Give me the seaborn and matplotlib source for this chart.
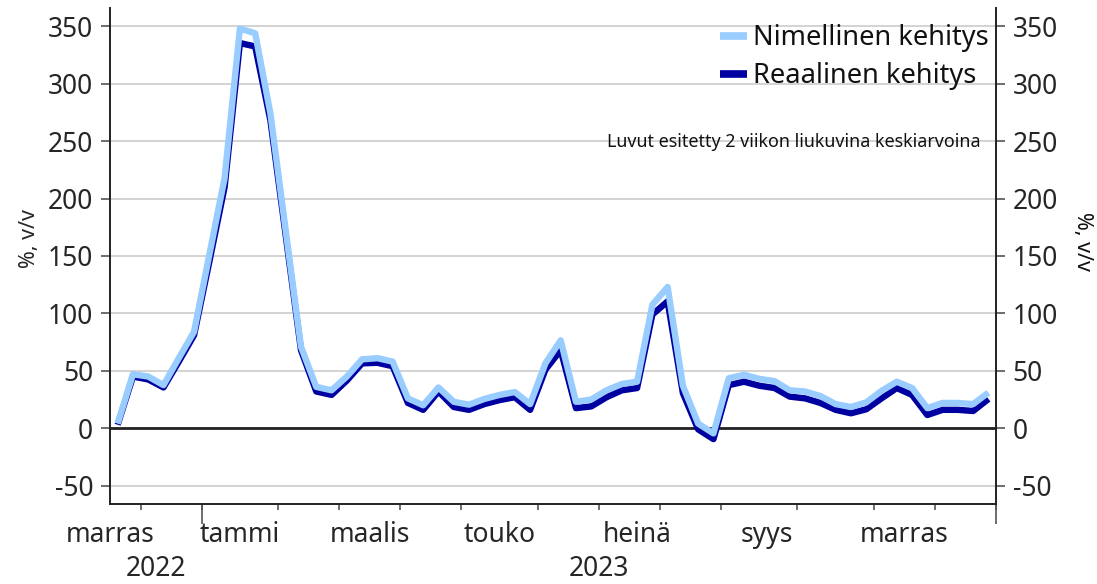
import numpy as np
import pandas as pd
import seaborn as sns
import matplotlib.pyplot as plt

NOMINAL = 'Nimellinen kehitys'
REAL = 'Reaalinen kehitys'

# weekly values, 2 week moving average, %, y/y
nominal = [4, 47, 45, 37.5, 61, 84, 151, 218, 348, 344,
           274, 172, 71, 36, 33, 45, 60, 61, 58, 26,
           20, 35.5, 23, 20.5, 25.5, 29, 31.5, 21, 56.5, 76.5,
           23, 25, 33, 38.5, 40.5, 107.5, 123, 37, 4, -4.5,
           43.5, 46.5, 43, 41, 33, 32, 28, 21, 18.5, 22.5,
           32.5, 40.5, 35, 17.5, 22, 22, 21, 31]
real = [3, 45, 42.5, 35.5, 58, 81, 145, 210, 335.5, 332.5,
        268, 168, 68, 32, 29, 41.5, 56.5, 57, 54, 22,
        16, 32, 18.5, 16, 21, 24.5, 27, 16, 51, 68,
        17.5, 19, 27, 33, 35, 99, 110.5, 30.5, -1, -9.5,
        37.5, 40.5, 37, 35, 27.5, 26, 22, 16, 13, 16.5,
        26, 35, 29, 11.5, 16, 16, 15, 25.5]

# week index where each month starts (Dec 2022 ... Jan 2024)
month_starts = [2, 6, 11, 15, 19, 23, 28, 32, 36, 40, 45, 50, 54, 58]
month_labels = ['marras', 'tammi', 'maalis', 'touko', 'heinä', 'syys', 'marras']
month_label_pos = [-0.5, 8, 16.5, 25, 34, 42.5, 51.5]
year_starts = [6, 58]
year_labels = ['2022', '2023']
year_label_pos = [2.5, 31.5]


def main():
    n = len(nominal)
    weeks = np.arange(n)
    df = pd.DataFrame({
        'week': np.concatenate([weeks, weeks]),
        'value': real + nominal,
        'series': [REAL] * n + [NOMINAL] * n,
    })

    sns.set_style('white')
    plt.rcParams['font.family'] = ['Noto Sans', 'DejaVu Sans']
    plt.rcParams['text.color'] = '#111111'
    plt.rcParams['axes.unicode_minus'] = False

    fig, ax = plt.subplots(figsize=(10.97, 5.84), dpi=100)
    fig.subplots_adjust(left=0.1003, right=0.908, top=0.9863, bottom=0.137)

    sns.lineplot(
        data=df, x='week', y='value', hue='series',
        hue_order=[REAL, NOMINAL],
        palette={REAL: '#0000a0', NOMINAL: '#99ccff'},
        linewidth=4.6, ax=ax,
    )
    for line in ax.lines:
        line.set_solid_capstyle('butt')

    ax.axhline(0, color='#222222', linewidth=2, zorder=1)

    # y axis, labels on both sides
    ax.set_ylim(-66, 366)
    ax.set_yticks(range(-50, 351, 50))
    ax.yaxis.grid(True, color='#cccccc', linewidth=1.2)
    ax.set_axisbelow(True)
    ax.tick_params(axis='y', left=True, right=True, labelleft=True,
                   labelright=True, length=6.5, width=1.2, color='#555555',
                   labelsize=19, pad=5.5)
    ax.set_ylabel('%, v/v', fontsize=15.5, va='center')
    ax.yaxis.set_label_coords(-0.0914, 0.535)
    ax.text(1.098, 0.53, '%, v/v', rotation=-90, fontsize=15.5,
            ha='center', va='center', transform=ax.transAxes)

    # x axis: month ticks between weeks, labels every other month
    ax.set_xlim(-0.5, len(nominal) - 0.5)
    ax.set_xticks([m - 0.5 for m in month_starts])
    ax.set_xticklabels([])
    ax.set_xticks(month_label_pos, month_labels, minor=True)
    ax.tick_params(axis='x', which='major', bottom=True, length=4,
                   width=1.2, color='#555555')
    ax.tick_params(axis='x', which='minor', bottom=True, length=0,
                   labelsize=19, pad=12)
    ax.set_xlabel('')

    years = ax.secondary_xaxis('bottom')
    years.set_xticks([y - 0.5 for y in year_starts])
    years.set_xticklabels([])
    years.set_xticks(year_label_pos, year_labels, minor=True)
    years.tick_params(which='major', length=14.5, width=1.2, color='#555555')
    years.tick_params(which='minor', length=0, labelsize=19, pad=37)
    years.spines['bottom'].set_visible(False)

    for side in ['left', 'right', 'bottom']:
        ax.spines[side].set_visible(True)
        ax.spines[side].set_color('#222222')
        ax.spines[side].set_linewidth(1.4)
    ax.spines['top'].set_visible(False)

    handles, labels = ax.get_legend_handles_labels()
    leg = ax.legend(handles[::-1], labels[::-1], loc='upper right',
                    bbox_to_anchor=(1.007, 0.995), frameon=False,
                    fontsize=19.6, handlelength=1.0, handletextpad=0.2,
                    labelspacing=0.38, borderaxespad=0.1)
    for h in leg.legend_handles:
        h.set_linewidth(5.5)
        h.set_solid_capstyle('butt')

    ax.text(0.982, 0.73, 'Luvut esitetty 2 viikon liukuvina keskiarvoina',
            fontsize=12.9, ha='right', va='center', transform=ax.transAxes)

    plt.savefig('out.png', dpi=100)
    plt.close()


main()
